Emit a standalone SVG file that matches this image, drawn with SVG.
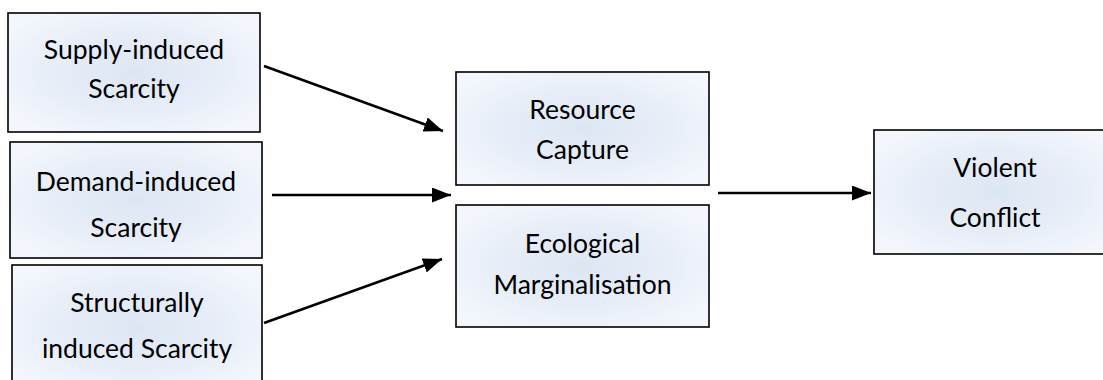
<svg xmlns="http://www.w3.org/2000/svg" width="1103" height="380" viewBox="0 0 1103 380">
<style>
.box{stroke:#000;stroke-width:1.6;fill:url(#g)}
.t{font-family:Lato,"Open Sans","Liberation Sans",sans-serif;font-size:26.5px;fill:#000;text-anchor:middle}
.c{stroke:#000;stroke-width:2.6;fill:none;marker-end:url(#ah)}
</style>
<defs>
<radialGradient id="g" cx="0.5" cy="0.5" r="0.6">
<stop offset="0" stop-color="#dce6f3"/>
<stop offset="0.6" stop-color="#e8eef8"/>
<stop offset="1" stop-color="#f3f6fc"/>
</radialGradient>
<marker id="ah" markerWidth="19" markerHeight="15" refX="19" refY="7.5" orient="auto" markerUnits="userSpaceOnUse">
<path d="M0,0 L19,7.5 L0,15 Z" fill="#000"/>
</marker>
</defs>
<g id="n1"><rect class="box" x="8" y="13" width="252" height="119"/><text class="t" x="134" y="59">Supply-induced</text><text class="t" x="134" y="98">Scarcity</text></g>
<g id="n2"><rect class="box" x="10" y="142" width="252" height="116"/><text class="t" x="136" y="191">Demand-induced</text><text class="t" x="136" y="237">Scarcity</text></g>
<g id="n3"><rect class="box" x="12" y="265" width="250" height="125"/><text class="t" x="137" y="312">Structurally</text><text class="t" x="137" y="358">induced Scarcity</text></g>
<g id="n4"><rect class="box" x="456" y="72" width="253" height="113"/><text class="t" x="582.5" y="119">Resource</text><text class="t" x="582.5" y="159">Capture</text></g>
<g id="n5"><rect class="box" x="456" y="205" width="253" height="122"/><text class="t" x="582.5" y="253">Ecological</text><text class="t" x="582.5" y="294">Marginalisation</text></g>
<g id="n6"><rect class="box" x="874" y="130" width="242" height="124"/><text class="t" x="995" y="177">Violent</text><text class="t" x="995" y="227">Conflict</text></g>
<g id="connectors">
<line class="c" x1="264" y1="66" x2="443" y2="131"/>
<line class="c" x1="272" y1="195" x2="451" y2="195"/>
<line class="c" x1="264" y1="323" x2="442" y2="259"/>
<line class="c" x1="718" y1="193" x2="871" y2="193"/>
</g>
</svg>
